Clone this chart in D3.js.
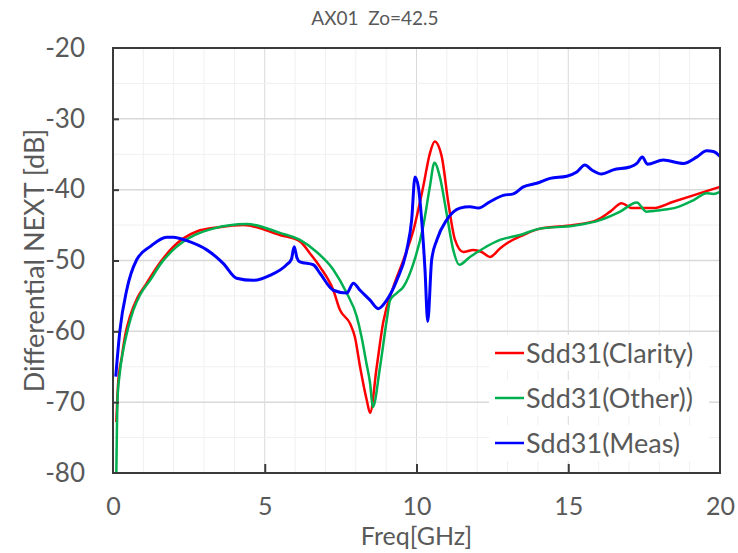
<!DOCTYPE html>
<html>
<head>
<meta charset="utf-8">
<script src="https://cdn.jsdelivr.net/npm/d3@7"></script>
<style>
  body { margin: 0; background: #fff; }
  text { font-family: Lato, "Open Sans", sans-serif; fill: #595959; }
</style>
</head>
<body>
<div id="container"></div>
<script>
/* valeurs */
const clarity_freq = [0.11, 0.17, 0.29, 0.4, 0.56, 0.8, 1.11, 1.5, 1.99, 2.76, 3.5, 4.3, 5.5, 6.16, 6.49, 6.82, 7.26, 7.48, 7.81, 7.97, 8.14, 8.36, 8.47, 8.69, 8.9, 9.24, 9.57, 9.9, 10.22, 10.44, 10.6, 10.83, 11.05, 11.27, 11.54, 11.87, 12.15, 12.42, 12.75, 12.97, 13.52, 14.07, 15.17, 15.94, 16.38, 16.76, 17.09, 17.8, 18.46, 19.12, 20];
const clarity_db = [-72.8, -67.3, -63.6, -60.6, -57.9, -55.3, -53.2, -50.6, -48.05, -45.9, -45.3, -45.0, -46.4, -47.3, -49.0, -50.9, -54.2, -57.0, -58.9, -60.8, -65, -69.7, -71.5, -65, -58.8, -53.7, -49.9, -45.7, -39.6, -34.9, -33.2, -35.3, -41.9, -47.1, -48.8, -48.5, -48.8, -49.5, -48.3, -47.6, -46.4, -45.5, -45.0, -44.3, -43.1, -41.9, -42.6, -42.6, -41.7, -40.8, -39.6];

const other_freq = [0.11, 0.15, 0.22, 0.34, 0.5, 0.67, 0.9, 1.22, 1.6, 2.1, 3.3, 4.4, 5.5, 6.16, 6.71, 7.26, 7.7, 8.03, 8.19, 8.35, 8.47, 8.56, 8.8, 9.02, 9.13, 9.35, 9.57, 9.9, 10.22, 10.44, 10.59, 10.77, 10.99, 11.21, 11.41, 11.76, 12.2, 12.75, 13.41, 14.07, 15.17, 16.05, 16.71, 17.26, 17.57, 18.02, 18.57, 19.12, 19.56, 19.78, 20];
const other_db = [-80, -69.5, -66, -62.6, -59.5, -57, -54.8, -52.8, -50.3, -48.05, -45.5, -44.85, -46.1, -47.1, -48.8, -51.3, -54.6, -57.9, -60.8, -64.5, -67.3, -70.7, -65, -58.4, -55.6, -54.6, -53.7, -50.4, -45.2, -39.6, -36.2, -38.2, -43.3, -48.5, -50.6, -49.5, -48.3, -47.1, -46.4, -45.5, -45.1, -44.3, -43.1, -41.8, -43.1, -42.9, -42.5, -41.5, -40.5, -40.6, -40.3];

const meas_freq = [0.09, 0.23, 0.45, 0.78, 1.22, 1.77, 1.99, 2.43, 3.09, 3.63, 4.07, 4.62, 5.17, 5.72, 5.88, 5.97, 6.06, 6.16, 6.6, 6.82, 7.26, 7.7, 7.92, 8.14, 8.47, 8.74, 9.02, 9.35, 9.68, 9.84, 9.95, 10.06, 10.17, 10.28, 10.37, 10.5, 10.67, 10.99, 11.43, 11.76, 12.04, 12.42, 12.86, 13.19, 13.52, 13.96, 14.4, 14.95, 15.28, 15.55, 15.77, 16.1, 16.48, 17.03, 17.26, 17.44, 17.61, 18.13, 18.79, 19.23, 19.56, 19.78, 20];
const meas_db = [-66.4, -59.8, -54.2, -49.9, -48.05, -46.7, -46.7, -47.2, -48.5, -50.4, -52.5, -52.8, -52.1, -50.6, -49.8, -48.05, -49.6, -50.2, -50.6, -51.8, -54.2, -54.6, -53.2, -54.2, -55.6, -56.8, -55.6, -52.8, -48.5, -44.3, -38.2, -39.6, -44.3, -51.3, -58.6, -49.9, -47.1, -44.3, -42.6, -42.4, -42.6, -41.7, -40.8, -40.6, -39.6, -39.1, -38.4, -38.1, -37.5, -36.5, -37.2, -37.8, -37.2, -36.8, -36.3, -35.4, -36.4, -35.8, -36.3, -35.4, -34.5, -34.6, -35.3];

const series_names = ["Sdd31(Clarity)", "Sdd31(Other))", "Sdd31(Meas)"];
const series_colors = ["#ff0000", "#00b050", "#0000ff"];
const x_ticks = [0, 5, 10, 15, 20];
const y_ticks = [-20, -30, -40, -50, -60, -70, -80];

const series = [
    {name: series_names[0], color: series_colors[0], width: 2.5, pts: clarity_freq.map((f, i) => [f, clarity_db[i]])},
    {name: series_names[1], color: series_colors[1], width: 2.5, pts: other_freq.map((f, i) => [f, other_db[i]])},
    {name: series_names[2], color: series_colors[2], width: 3, pts: meas_freq.map((f, i) => [f, meas_db[i]])}
];

const width = 738, height = 553;
const m_left = 113, m_right = 720, m_top = 48, m_bottom = 473;

const x = d3.scaleLinear().domain([0, 20]).range([m_left, m_right]);
const y = d3.scaleLinear().domain([-80, -20]).range([m_bottom, m_top]);

const svg = d3.create("svg")
    .attr("width", width)
    .attr("height", height);

// grille mineure puis majeure
const grid = svg.append("g");
grid.selectAll("line.vx")
    .data(d3.range(1, 20))
    .join("line")
    .attr("x1", d => x(d)).attr("x2", d => x(d))
    .attr("y1", m_top).attr("y2", m_bottom)
    .attr("stroke", d => d % 5 === 0 ? "#d9d9d9" : "#f0f0f0")
    .attr("stroke-width", 1);
grid.selectAll("line.hy")
    .data(d3.range(-75, -20, 5))
    .join("line")
    .attr("y1", d => y(d)).attr("y2", d => y(d))
    .attr("x1", m_left).attr("x2", m_right)
    .attr("stroke", d => d % 10 === 0 ? "#d9d9d9" : "#f0f0f0")
    .attr("stroke-width", d => d % 10 === 0 ? 1.5 : 1);

// courbes
const line = d3.line()
    .x(d => x(d[0]))
    .y(d => y(d[1]))
    .curve(d3.curveMonotoneX);

svg.append("g")
    .selectAll("path")
    .data(series)
    .join("path")
    .attr("fill", "none")
    .attr("stroke", d => d.color)
    .attr("stroke-width", d => d.width)
    .attr("stroke-linejoin", "round")
    .attr("d", d => line(d.pts));

// cadre
svg.append("rect")
    .attr("x", m_left).attr("y", m_top)
    .attr("width", m_right - m_left).attr("height", m_bottom - m_top)
    .attr("fill", "none")
    .attr("stroke", "#3a3a3a")
    .attr("stroke-width", 2);

// axes (tiret simple comme dans l'original, pas le signe moins unicode)
const xAxis = d3.axisBottom(x).tickValues(x_ticks).tickSize(-9).tickPadding(24).tickFormat(d => String(d));
const yAxis = d3.axisLeft(y).tickValues(y_ticks).tickSize(-6).tickPadding(28).tickFormat(d => String(d));

const gx = svg.append("g").attr("transform", `translate(0,${m_bottom})`).call(xAxis);
const gy = svg.append("g").attr("transform", `translate(${m_left},0)`).call(yAxis);
for (const g of [gx, gy]) {
    g.select(".domain").remove();
    g.selectAll(".tick line").attr("stroke", "#3a3a3a").attr("stroke-width", 2);
    g.selectAll(".tick text")
        .attr("font-family", "Lato, 'Open Sans', sans-serif")
        .attr("font-size", 26)
        .attr("fill", "#595959");
}
gx.selectAll(".tick text").attr("font-size", 25);
gx.selectAll(".tick line").filter(d => d === 0 || d === 20).remove();
gy.selectAll(".tick line").filter(d => d === -20 || d === -80).remove();

// titres
svg.append("text")
    .attr("x", 375).attr("y", 25)
    .attr("text-anchor", "middle")
    .attr("font-size", 19)
    .attr("xml:space", "preserve")
    .text("AX01  Zo=42.5");

svg.append("text")
    .attr("x", x(10)).attr("y", 545)
    .attr("text-anchor", "middle")
    .attr("font-size", 25)
    .text("Freq[GHz]");

svg.append("text")
    .attr("transform", `translate(44,${(m_top + m_bottom) / 2}) rotate(-90)`)
    .attr("text-anchor", "middle")
    .attr("font-size", 27)
    .text("Differential NEXT [dB]");

// légende
const legend = svg.append("g")
    .selectAll("g")
    .data(series)
    .join("g")
    .attr("transform", (d, i) => `translate(495,${353 + i * 45})`);

legend.append("rect")
    .attr("x", -6).attr("y", -18)
    .attr("width", 220).attr("height", 36)
    .attr("fill", "#fff");
legend.append("line")
    .attr("x1", 0).attr("x2", 29)
    .attr("stroke", d => d.color)
    .attr("stroke-width", 2.5);
legend.append("text")
    .attr("x", 31).attr("y", 10)
    .attr("font-size", 27)
    .text(d => d.name);

d3.select("#container").node().append(svg.node());
</script>
</body>
</html>
